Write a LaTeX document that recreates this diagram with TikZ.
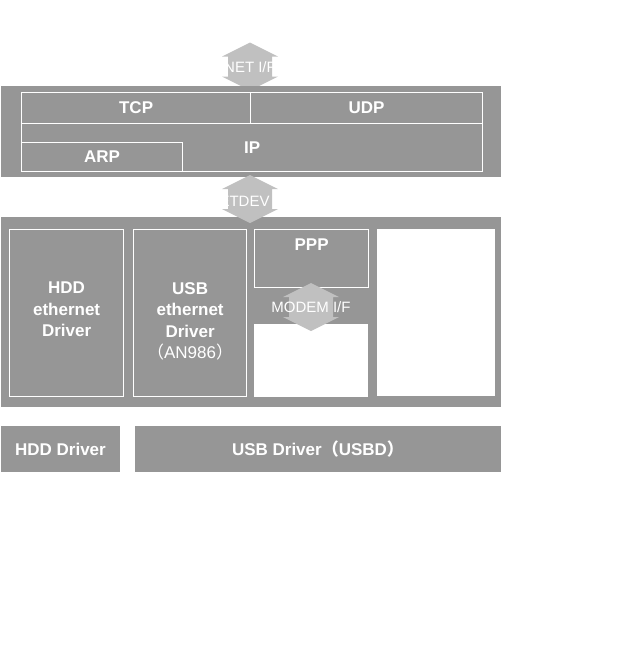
\documentclass[tikz,border=0pt]{standalone}
\usepackage{fontspec}
\setmainfont{Liberation Sans}
\newfontfamily\cjk{Noto Sans CJK JP}
\usetikzlibrary{positioning}
\definecolor{panelgray}{RGB}{150,150,150}
\definecolor{arrowgray}{RGB}{192,192,192}
\tikzstyle{panel} = [rectangle, fill=panelgray, anchor=north west, inner sep=0pt, outer sep=0pt]
\tikzstyle{block} = [rectangle, draw=white, line width=1.2pt, fill=panelgray, anchor=north west, inner sep=0pt, text=white, font=\bfseries\fontsize{17}{21.5}\selectfont, align=center]
\tikzstyle{blank} = [rectangle, fill=white, anchor=north west, inner sep=0pt]
\tikzstyle{lbl} = [text=white, inner sep=0pt, align=center, font=\bfseries\fontsize{17}{21.5}\selectfont]
\tikzstyle{iflbl} = [text=white, inner sep=0pt, font=\fontsize{15}{18}\selectfont]
\tikzset{updown/.pic={
	\fill[arrowgray] (0,-24) -- (28,-10) -- (22,-10) -- (22,10) -- (28,10) -- (0,24)
		-- (-28,10) -- (-22,10) -- (-22,-10) -- (-28,-10) -- cycle;
}}

\begin{document}
\begin{tikzpicture}[x=1pt, y=-1pt]
	\useasboundingbox (0,0) rectangle (626,648);

	% NET I/F arrow (behind the stack)
	\pic at (250,66.5) {updown};
	\node (netlbl) [iflbl] at (250,67) {NET I/F};

	% Protocol stack
	\node (stack) [panel, minimum width=500pt, minimum height=91pt] at (1,86) {};
	\node (ip)  [block, minimum width=461pt, minimum height=48pt] at (21,123) {IP};
	\node (tcp) [block, minimum width=229pt, minimum height=31pt] at (21,92) {TCP};
	\node (udp) [block, minimum width=232pt, minimum height=31pt] at (250,92) {UDP};
	\node (arp) [block, minimum width=161pt, minimum height=29pt] at (21,142) {ARP};

	% Device drivers
	\node (drivers) [panel, minimum width=500pt, minimum height=190pt] at (1,217) {};
	\node (hddeth) [block, minimum width=114pt, minimum height=167pt] at (9,229) {};
	\node (usbeth) [block, minimum width=113pt, minimum height=167pt] at (133,229) {};
	\node (ppp)    [block, minimum width=114pt, minimum height=58pt] at (254,229) {};
	\node (modem)  [blank, minimum width=114pt, minimum height=73pt] at (254,324) {};
	\node (spare)  [blank, minimum width=118pt, minimum height=167pt] at (377,229) {};

	\node (hddethtxt) [lbl, below=53pt of hddeth.north] {HDD\\ethernet\\Driver};
	\node (usbethtxt) [lbl, below=53pt of usbeth.north] {USB\\ethernet\\Driver\\{\mdseries\cjk （}{\mdseries AN986}{\mdseries\cjk ）}};
	\node (ppptxt)    [lbl, below=10pt of ppp.north] {PPP};

	% NETDEV I/F arrow
	\pic at (250,199) {updown};
	\node (devlbl) [iflbl] at (250,201) {NETDEV I/F};

	% MODEM I/F arrow
	\pic at (311,307) {updown};
	\node (modemlbl) [iflbl] at (311,307.5) {MODEM I/F};

	% Bus drivers
	\node (hdddrv) [panel, minimum width=119pt, minimum height=46pt, text=white, font=\bfseries\fontsize{17}{21.5}\selectfont] at (1,426) {HDD Driver};
	\node (usbd)   [panel, minimum width=366pt, minimum height=46pt, text=white, font=\bfseries\fontsize{17}{21.5}\selectfont] at (135,426) {USB Driver{\cjk （}USBD{\cjk ）}};

\end{tikzpicture}
\end{document}
